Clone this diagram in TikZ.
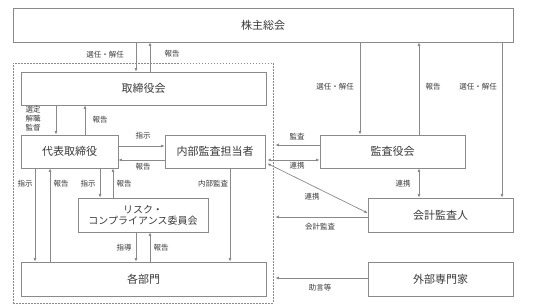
\documentclass[tikz,border=0pt]{standalone}
\usepackage{fontspec}
\setmainfont{Noto Sans CJK JP}
\usetikzlibrary{arrows.meta}
\definecolor{ln}{HTML}{8A8A8A}
\definecolor{tx}{HTML}{3A3A3A}
\tikzset{
  box/.style={draw=ln, line width=0.8pt, rectangle, inner sep=0pt, text=tx, font=\fontsize{11}{13}\selectfont, align=center},
  lbl/.style={text=tx, font=\fontsize{7.5}{9}\selectfont, inner sep=0pt, align=center},
  arr/.style={draw=ln, line width=0.7pt, -{Latex[length=3.5pt,width=3pt]}},
  darr/.style={draw=ln, line width=0.7pt, {Latex[length=3.5pt,width=3pt]}-{Latex[length=3.5pt,width=3pt]}},
  bound/.style={draw=ln, dashed, dash pattern=on 1.5pt off 1.5pt, line width=0.6pt, inner sep=0pt}
}
\begin{document}
\begin{tikzpicture}[x=1pt,y=-1pt]
\useasboundingbox[fill=white] (0,0) rectangle (533,307);
\node[bound, minimum width=260, minimum height=240] (bnd) at (143,183) {};
\node[box, minimum width=500, minimum height=34] (sh) at (263,25) {株主総会};
\node[box, minimum width=245, minimum height=33] (bd) at (143.5,88.5) {取締役会};
\node[box, minimum width=97, minimum height=33] (rep) at (69.5,151.5) {代表取締役};
\node[box, minimum width=100, minimum height=33] (ia) at (215,151.5) {内部監査担当者};
\node[box, minimum width=145, minimum height=33] (ac) at (392.5,151.5) {監査役会};
\node[box, minimum width=130, minimum height=34, font=\fontsize{10}{11}\selectfont] (risk) at (143,215) {リスク・\\コンプライアンス委員会};
\node[box, minimum width=145, minimum height=34] (aud) at (440.5,215) {会計監査人};
\node[box, minimum width=245, minimum height=34] (dept) at (143.5,279) {各部門};
\node[box, minimum width=145, minimum height=34] (ext) at (440.5,279) {外部専門家};
% shareholders
\draw[arr] (sh.south -| 136,0) -- (bd.north -| 136,0);
\draw[arr] (bd.north -| 150,0) -- (sh.south -| 150,0);
\node[lbl] (l1) at (105,55) {選任・解任};
\node[lbl] (l2) at (172,54) {報告};
\draw[arr] (sh.south -| 360,0) -- (ac.north -| 360,0);
\draw[arr] (ac.north -| 419,0) -- (sh.south -| 419,0);
\draw[arr] (sh.south -| 502,0) -- (aud.north -| 502,0);
\node[lbl] (l3) at (335,87) {選任・解任};
\node[lbl] (l4) at (433,87) {報告};
\node[lbl] (l5) at (478,87) {選任・解任};
% board and representative
\draw[arr] (bd.south -| 56,0) -- (rep.north -| 56,0);
\draw[arr] (rep.north -| 85,0) -- (bd.south -| 85,0);
\node[lbl, font=\fontsize{7.5}{9}\selectfont] (l6) at (33,119) {選定\\解職\\監督};
\node[lbl] (l7) at (100,120) {報告};
% representative and internal audit
\draw[arr] (rep.east |- 0,146) -- (ia.west |- 0,146);
\draw[arr] (ia.west |- 0,160) -- (rep.east |- 0,160);
\node[lbl] (l8) at (143,136) {指示};
\node[lbl] (l9) at (143,167) {報告};
% audit board
\coordinate (b1) at (bnd.east |- 0,145);
\draw[arr] (ac.west |- 0,145) -- ([xshift=2pt]b1);
\node[lbl] (l10) at (297,137) {監査};
\draw[darr] ([xshift=2pt]ia.east |- 0,160) -- (ac.west |- 0,160);
\node[lbl] (l11) at (297,166) {連携};
\draw[darr] ([xshift=2pt,yshift=-12pt]ia.east) -- ([yshift=2pt]aud.west);
\node[lbl] (l12) at (312,197) {連携};
\draw[darr] (ac.south -| 419,0) -- (aud.north -| 419,0);
\node[lbl] (l13) at (403,184) {連携};
% accounting auditor and experts
\coordinate (b2) at (bnd.east |- 0,217);
\draw[arr] (aud.west |- 0,217) -- ([xshift=2pt]b2);
\node[lbl] (l14) at (320,227) {会計監査};
\coordinate (b3) at (bnd.east |- 0,278);
\draw[arr] (ext.west |- 0,278) -- ([xshift=2pt]b3);
\node[lbl] (l15) at (320,288) {助言等};
% representative to departments / risk
\draw[arr] (rep.south -| 35,0) -- (dept.north -| 35,0);
\draw[arr] (dept.north -| 50,0) -- (rep.south -| 50,0);
\node[lbl] (l16) at (25,184) {指示};
\node[lbl] (l17) at (61,184) {報告};
\draw[arr] (rep.south -| 100,0) -- (risk.north -| 100,0);
\draw[arr] (risk.north -| 113,0) -- (rep.south -| 113,0);
\node[lbl] (l18) at (88,184) {指示};
\node[lbl] (l19) at (124,184) {報告};
\draw[arr] (risk.south -| 136,0) -- (dept.north -| 136,0);
\draw[arr] (dept.north -| 150,0) -- (risk.south -| 150,0);
\node[lbl] (l20) at (124,248) {指導};
\node[lbl] (l21) at (161,248) {報告};
\draw[arr] (ia.south -| 230,0) -- (dept.north -| 230,0);
\node[lbl] (l22) at (213,184) {内部監査};
\end{tikzpicture}
\end{document}
